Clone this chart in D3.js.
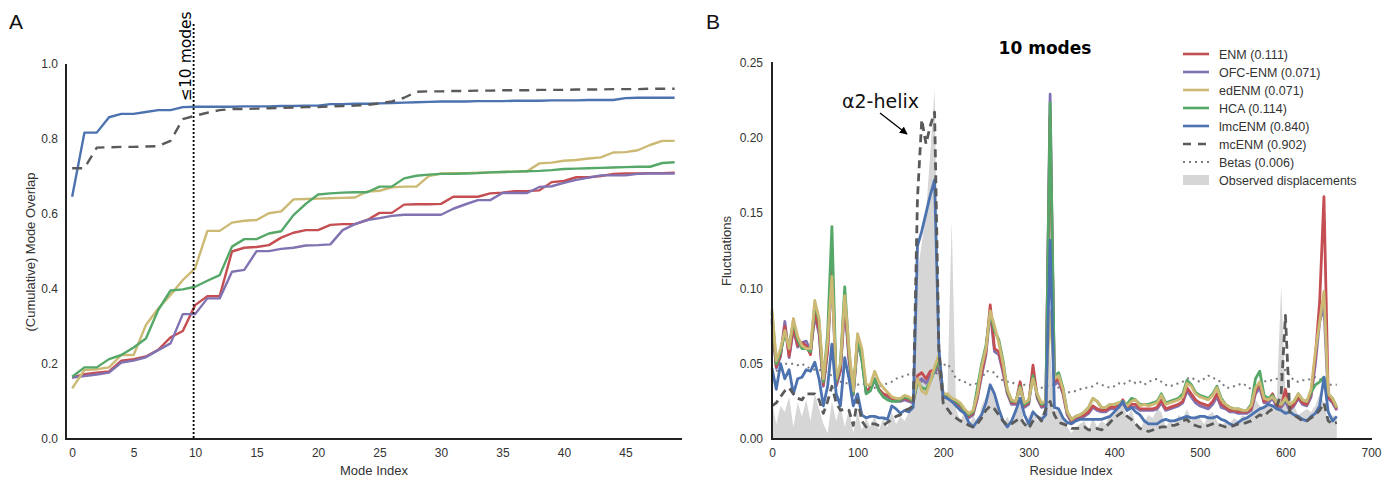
<!DOCTYPE html>
<html><head><meta charset="utf-8">
<script src="https://cdn.jsdelivr.net/npm/d3@7"></script>
<style>
body{margin:0;background:#fff;}
svg{display:block;}
.tick text{font-family:"Liberation Sans",Arial,sans-serif;font-size:12px;fill:#333;}
</style></head>
<body><svg id="c" width="1395" height="478"></svg>
<script>
// ---------- Panel A data ----------
const modeIndex = d3.range(0, 50);
const xTicksA = [0,5,10,15,20,25,30,35,40,45];
const yTicksA = [0,0.2,0.4,0.6,0.8,1.0];
const enmA = [0.164,0.173,0.177,0.180,0.209,0.213,0.220,0.238,0.271,0.288, 0.357,0.381,0.381,0.500,0.510,0.512,0.517,0.537,0.550,0.557, 0.557,0.571,0.573,0.573,0.584,0.603,0.603,0.625,0.626,0.626, 0.627,0.646,0.646,0.646,0.655,0.657,0.661,0.661,0.663,0.685, 0.688,0.698,0.698,0.701,0.707,0.708,0.708,0.709,0.709,0.710];
const ofcA = [0.164,0.168,0.172,0.177,0.204,0.209,0.218,0.237,0.255,0.333, 0.333,0.375,0.375,0.446,0.451,0.501,0.501,0.507,0.510,0.516, 0.517,0.519,0.557,0.573,0.584,0.589,0.595,0.598,0.598,0.598, 0.598,0.614,0.626,0.637,0.637,0.656,0.656,0.656,0.672,0.674, 0.683,0.691,0.697,0.703,0.703,0.703,0.707,0.708,0.708,0.708];
const edA = [0.135,0.184,0.186,0.191,0.224,0.224,0.304,0.348,0.384,0.424, 0.455,0.555,0.555,0.577,0.582,0.584,0.602,0.607,0.639,0.640, 0.641,0.642,0.643,0.644,0.660,0.662,0.671,0.673,0.673,0.701, 0.708,0.709,0.709,0.710,0.711,0.712,0.713,0.714,0.735,0.737, 0.742,0.744,0.748,0.751,0.764,0.765,0.770,0.784,0.795,0.795];
const hcaA = [0.166,0.191,0.191,0.213,0.224,0.244,0.268,0.344,0.396,0.399, 0.406,0.422,0.437,0.513,0.533,0.533,0.548,0.554,0.597,0.627, 0.652,0.655,0.657,0.658,0.658,0.673,0.673,0.695,0.702,0.705, 0.707,0.707,0.708,0.709,0.711,0.712,0.713,0.714,0.715,0.717, 0.720,0.721,0.722,0.723,0.724,0.725,0.726,0.726,0.736,0.738];
const lmcA = [0.646,0.817,0.817,0.858,0.867,0.867,0.872,0.877,0.877,0.885, 0.886,0.886,0.886,0.886,0.887,0.887,0.887,0.888,0.888,0.889, 0.889,0.893,0.893,0.894,0.894,0.895,0.896,0.897,0.898,0.899, 0.900,0.900,0.900,0.901,0.901,0.901,0.902,0.902,0.902,0.903, 0.903,0.903,0.904,0.904,0.904,0.909,0.910,0.910,0.910,0.910];
const mcA = [0.722,0.722,0.777,0.778,0.779,0.779,0.780,0.781,0.795,0.853, 0.862,0.870,0.877,0.880,0.880,0.881,0.882,0.883,0.884,0.885, 0.885,0.887,0.888,0.889,0.891,0.895,0.900,0.910,0.926,0.927, 0.927,0.928,0.928,0.929,0.929,0.930,0.930,0.930,0.931,0.931, 0.931,0.932,0.932,0.932,0.933,0.933,0.933,0.934,0.934,0.934];
const cutoffMode = 10;

// ---------- Panel B data ----------
const residues = d3.range(0, 661, 5);
const xTicksB = [0,100,200,300,400,500,600,700];
const yTicksB = [0,0.05,0.10,0.15,0.20,0.25];
const enmB = [0.080,0.048,0.056,0.075,0.055,0.075,0.062,0.064,0.062,0.056,
0.085,0.072,0.036,0.060,0.119,0.036,0.046,0.092,0.054,0.030,
0.066,0.055,0.032,0.034,0.040,0.033,0.030,0.029,0.027,0.026,
0.026,0.027,0.026,0.025,0.042,0.044,0.040,0.045,0.046,0.050,
0.029,0.029,0.026,0.024,0.022,0.018,0.015,0.017,0.028,0.044,
0.058,0.089,0.060,0.058,0.046,0.031,0.024,0.024,0.038,0.022,
0.024,0.049,0.028,0.022,0.023,0.215,0.038,0.040,0.031,0.017,
0.012,0.014,0.015,0.016,0.018,0.022,0.020,0.019,0.019,0.021,
0.021,0.022,0.026,0.020,0.023,0.023,0.020,0.020,0.020,0.020,
0.021,0.026,0.020,0.021,0.022,0.023,0.025,0.034,0.030,0.026,
0.024,0.023,0.022,0.025,0.030,0.023,0.021,0.019,0.019,0.018,
0.018,0.018,0.020,0.032,0.037,0.025,0.026,0.030,0.022,0.022,
0.033,0.020,0.023,0.028,0.024,0.023,0.030,0.055,0.091,0.161,
0.028,0.025,0.020];
const ofcB = [0.078,0.047,0.055,0.078,0.054,0.073,0.061,0.064,0.065,0.058,
0.082,0.070,0.035,0.058,0.110,0.035,0.045,0.089,0.052,0.029,
0.064,0.053,0.031,0.033,0.039,0.032,0.029,0.028,0.026,0.025,
0.025,0.026,0.025,0.024,0.038,0.040,0.037,0.042,0.044,0.048,
0.028,0.028,0.025,0.023,0.021,0.017,0.014,0.016,0.027,0.042,
0.056,0.085,0.058,0.056,0.044,0.030,0.023,0.023,0.035,0.021,
0.023,0.045,0.027,0.021,0.022,0.229,0.036,0.038,0.030,0.016,
0.011,0.013,0.014,0.015,0.017,0.021,0.019,0.018,0.018,0.020,
0.020,0.021,0.024,0.019,0.021,0.021,0.019,0.019,0.019,0.019,
0.020,0.024,0.019,0.020,0.021,0.022,0.024,0.032,0.028,0.024,
0.022,0.021,0.020,0.023,0.028,0.021,0.020,0.018,0.018,0.017,
0.017,0.017,0.019,0.030,0.034,0.024,0.024,0.027,0.021,0.021,
0.025,0.019,0.022,0.027,0.023,0.022,0.028,0.050,0.078,0.088,
0.027,0.024,0.019];
const edB = [0.086,0.052,0.060,0.072,0.060,0.080,0.068,0.062,0.060,0.060,
0.092,0.080,0.040,0.065,0.108,0.040,0.050,0.095,0.060,0.032,
0.070,0.060,0.036,0.036,0.045,0.038,0.034,0.031,0.028,0.027,
0.027,0.029,0.028,0.026,0.040,0.032,0.030,0.038,0.048,0.056,
0.030,0.030,0.027,0.026,0.024,0.020,0.017,0.019,0.030,0.048,
0.060,0.085,0.075,0.064,0.050,0.033,0.026,0.025,0.034,0.024,
0.026,0.040,0.030,0.024,0.025,0.085,0.040,0.042,0.033,0.018,
0.013,0.015,0.016,0.018,0.021,0.027,0.025,0.021,0.021,0.023,
0.023,0.024,0.025,0.022,0.025,0.026,0.022,0.023,0.022,0.023,
0.024,0.029,0.023,0.024,0.025,0.026,0.028,0.037,0.035,0.030,
0.028,0.027,0.026,0.029,0.034,0.026,0.023,0.021,0.020,0.020,
0.019,0.019,0.022,0.034,0.038,0.027,0.026,0.028,0.024,0.023,
0.027,0.023,0.025,0.030,0.026,0.025,0.033,0.058,0.078,0.098,
0.030,0.027,0.021];
const hcaB = [0.084,0.050,0.058,0.070,0.062,0.078,0.066,0.060,0.060,0.058,
0.090,0.078,0.038,0.070,0.141,0.038,0.050,0.101,0.058,0.030,
0.068,0.052,0.030,0.032,0.040,0.032,0.028,0.026,0.025,0.025,
0.026,0.028,0.027,0.025,0.038,0.034,0.033,0.038,0.046,0.052,
0.030,0.029,0.027,0.025,0.023,0.019,0.016,0.018,0.034,0.050,
0.062,0.084,0.072,0.066,0.052,0.032,0.025,0.025,0.035,0.023,
0.025,0.042,0.029,0.023,0.024,0.223,0.042,0.044,0.034,0.018,
0.013,0.015,0.016,0.018,0.021,0.027,0.025,0.021,0.021,0.023,
0.023,0.024,0.025,0.023,0.027,0.026,0.023,0.023,0.023,0.024,
0.025,0.030,0.024,0.025,0.026,0.027,0.030,0.039,0.036,0.031,
0.029,0.028,0.027,0.030,0.035,0.027,0.023,0.021,0.020,0.020,
0.019,0.019,0.023,0.040,0.045,0.029,0.027,0.029,0.024,0.023,
0.026,0.023,0.025,0.030,0.026,0.025,0.031,0.036,0.038,0.041,
0.030,0.027,0.021];
const lmcB = [0.047,0.033,0.050,0.040,0.046,0.030,0.040,0.041,0.046,0.045,
0.051,0.040,0.022,0.035,0.063,0.030,0.022,0.054,0.040,0.022,
0.030,0.016,0.014,0.015,0.015,0.014,0.014,0.013,0.022,0.020,
0.017,0.019,0.018,0.021,0.128,0.138,0.150,0.162,0.172,0.060,
0.028,0.027,0.025,0.022,0.019,0.017,0.011,0.008,0.012,0.016,
0.024,0.036,0.030,0.020,0.012,0.008,0.012,0.019,0.027,0.016,
0.010,0.018,0.015,0.013,0.016,0.132,0.021,0.020,0.014,0.011,
0.010,0.012,0.013,0.013,0.013,0.013,0.013,0.013,0.014,0.015,
0.018,0.021,0.025,0.019,0.021,0.018,0.016,0.012,0.010,0.010,
0.010,0.012,0.013,0.012,0.012,0.013,0.014,0.015,0.014,0.014,
0.015,0.015,0.014,0.014,0.015,0.013,0.012,0.010,0.009,0.011,
0.013,0.014,0.016,0.018,0.020,0.021,0.023,0.022,0.020,0.019,
0.017,0.018,0.016,0.015,0.013,0.012,0.015,0.017,0.022,0.041,
0.018,0.012,0.015];
const mcB = [0.022,0.024,0.028,0.032,0.034,0.030,0.027,0.026,0.030,0.030,
0.030,0.026,0.017,0.025,0.035,0.024,0.019,0.020,0.019,0.009,
0.026,0.012,0.008,0.010,0.010,0.009,0.009,0.011,0.013,0.015,
0.016,0.019,0.020,0.022,0.160,0.212,0.196,0.208,0.217,0.060,
0.024,0.020,0.016,0.014,0.012,0.011,0.009,0.008,0.010,0.014,
0.019,0.022,0.020,0.016,0.012,0.009,0.010,0.012,0.014,0.010,
0.007,0.012,0.015,0.012,0.020,0.025,0.016,0.011,0.010,0.009,
0.007,0.007,0.007,0.008,0.006,0.006,0.007,0.006,0.008,0.011,
0.014,0.016,0.018,0.015,0.013,0.010,0.007,0.006,0.005,0.006,
0.007,0.008,0.008,0.009,0.009,0.010,0.012,0.013,0.010,0.009,
0.008,0.008,0.009,0.010,0.010,0.009,0.008,0.008,0.009,0.010,
0.010,0.011,0.012,0.014,0.016,0.015,0.018,0.020,0.022,0.030,
0.082,0.018,0.016,0.014,0.012,0.012,0.014,0.016,0.019,0.024,
0.012,0.010,0.011];
const betasB = [0.042,0.045,0.048,0.050,0.050,0.050,0.049,0.050,0.048,0.047,
0.046,0.046,0.045,0.044,0.042,0.040,0.038,0.037,0.037,0.037,
0.036,0.037,0.036,0.034,0.034,0.035,0.036,0.037,0.038,0.040,
0.041,0.042,0.043,0.044,0.040,0.038,0.038,0.040,0.042,0.045,
0.049,0.050,0.046,0.040,0.039,0.038,0.036,0.036,0.037,0.040,
0.045,0.045,0.044,0.040,0.039,0.038,0.038,0.036,0.035,0.036,
0.036,0.035,0.034,0.034,0.035,0.036,0.036,0.034,0.032,0.031,
0.031,0.032,0.033,0.034,0.034,0.035,0.037,0.036,0.035,0.034,
0.035,0.037,0.036,0.038,0.039,0.037,0.038,0.036,0.038,0.039,
0.040,0.038,0.036,0.035,0.036,0.037,0.038,0.040,0.041,0.039,
0.038,0.040,0.042,0.041,0.039,0.038,0.034,0.034,0.035,0.036,
0.037,0.035,0.033,0.035,0.037,0.038,0.039,0.039,0.040,0.043,
0.046,0.042,0.039,0.038,0.039,0.039,0.040,0.041,0.040,0.038,
0.036,0.036,0.036];
const observedB = [0.025,0.010,0.022,0.018,0.028,0.008,0.024,0.015,0.026,0.012,
0.030,0.020,0.010,0.004,0.025,0.012,0.022,0.008,0.020,0.004,
0.018,0.006,0.014,0.008,0.016,0.006,0.014,0.008,0.018,0.010,
0.015,0.012,0.018,0.030,0.110,0.130,0.150,0.190,0.232,0.060,
0.025,0.030,0.145,0.020,0.012,0.018,0.008,0.016,0.010,0.022,
0.028,0.035,0.030,0.018,0.010,0.015,0.008,0.018,0.024,0.010,
0.015,0.020,0.012,0.016,0.020,0.060,0.018,0.020,0.014,0.008,
0.004,0.008,0.010,0.012,0.006,0.014,0.008,0.012,0.010,0.016,
0.018,0.020,0.024,0.014,0.020,0.010,0.006,0.012,0.016,0.014,
0.020,0.018,0.008,0.012,0.010,0.016,0.014,0.020,0.012,0.016,
0.014,0.010,0.016,0.018,0.012,0.008,0.012,0.010,0.014,0.012,
0.016,0.014,0.018,0.026,0.022,0.020,0.024,0.022,0.028,0.102,
0.030,0.018,0.022,0.016,0.018,0.020,0.018,0.022,0.030,0.024,
0.012,0.016,0.014];
const legendLabels = ["ENM (0.111)","OFC-ENM (0.071)","edENM (0.071)","HCA (0.114)","lmcENM (0.840)","mcENM (0.902)","Betas (0.006)","Observed displacements"];

// ---------- styles ----------
const C = {enm:"#C44E52", ofc:"#8172B2", ed:"#CCB974", hca:"#55A868", lmc:"#4C72B0", mc:"#5a5a5a", betas:"#7a7a7a", obs:"#d6d6d6"};
const FONT = '"Liberation Sans", Arial, sans-serif';

const svg = d3.select("#c");

// ================= Panel A =================
const xA = d3.scaleLinear().domain([-0.5, 49.6]).range([66, 682]);
const yA = d3.scaleLinear().domain([0, 1]).range([439, 64]);
const gA = svg.append("g");

gA.append("g").attr("transform","translate(66,0)")
  .call(d3.axisLeft(yA).tickValues(yTicksA).tickFormat(d3.format(".1f")).tickSize(0).tickPadding(8))
  .call(g=>g.select(".domain").remove());
gA.append("g").attr("transform","translate(0,439)")
  .call(d3.axisBottom(xA).tickValues(xTicksA).tickFormat(d3.format("d")).tickSize(0).tickPadding(9))
  .call(g=>g.select(".domain").remove());

const lineA = d3.line().x((d,i)=>xA(modeIndex[i])).y(d=>yA(d));
const seriesA = [
  {v:enmA,c:C.enm},{v:ofcA,c:C.ofc},{v:edA,c:C.ed},{v:hcaA,c:C.hca},{v:lmcA,c:C.lmc},
  {v:mcA,c:C.mc,dash:"10,7"}
];
seriesA.forEach(s=>{
  gA.append("path").attr("d",lineA(s.v)).attr("fill","none").attr("stroke",s.c)
    .attr("stroke-width",2.4).attr("stroke-linejoin","round")
    .attr("stroke-dasharray",s.dash||null);
});
// cutoff line
gA.append("line").attr("x1",xA(cutoffMode)-1.5).attr("x2",xA(cutoffMode)-1.5).attr("y1",24).attr("y2",439)
  .attr("stroke","#000").attr("stroke-width",1.8).attr("stroke-dasharray","2,2");
gA.append("text").attr("transform",`translate(${xA(cutoffMode)-4},101) rotate(-90)`)
  .attr("font-family","DejaVu Sans").attr("font-size",15.5).attr("fill","#000").text("≤10 modes");
// spines
gA.append("line").attr("x1",66).attr("x2",66).attr("y1",64).attr("y2",440).attr("stroke","#222").attr("stroke-width",2);
gA.append("line").attr("x1",65).attr("x2",682).attr("y1",439).attr("y2",439).attr("stroke","#222").attr("stroke-width",2);
gA.append("text").attr("x",374).attr("y",475).attr("text-anchor","middle").attr("font-family",FONT).attr("font-size",13).attr("fill","#333").text("Mode Index");
gA.append("text").attr("transform","translate(35,252) rotate(-90)").attr("text-anchor","middle").attr("font-family",FONT).attr("font-size",13).attr("fill","#333").text("(Cumulative) Mode Overlap");
svg.append("text").attr("x",9).attr("y",29).attr("font-family",FONT).attr("font-size",21).attr("fill","#111").text("A");

// ================= Panel B =================
const xB = d3.scaleLinear().domain([0,700]).range([772,1371]);
const yB = d3.scaleLinear().domain([0,0.25]).range([439,62.5]);
const gB = svg.append("g");

gB.append("g").attr("transform","translate(772,0)")
  .call(d3.axisLeft(yB).tickValues(yTicksB).tickFormat(d3.format(".2f")).tickSize(0).tickPadding(9))
  .call(g=>g.select(".domain").remove());
gB.append("g").attr("transform","translate(0,439)")
  .call(d3.axisBottom(xB).tickValues(xTicksB).tickFormat(d3.format("d")).tickSize(0).tickPadding(9))
  .call(g=>g.select(".domain").remove());

const area = d3.area().x((d,i)=>xB(residues[i])).y0(yB(0)).y1(d=>yB(d));
gB.append("path").attr("d",area(observedB)).attr("fill",C.obs).attr("stroke","none");

const lineB = d3.line().x((d,i)=>xB(residues[i])).y(d=>yB(d));
const seriesB = [
  {v:betasB,c:C.betas,w:2,dash:"2,4"},
  {v:ofcB,c:C.ofc,w:2.8},{v:enmB,c:C.enm,w:2.8},{v:hcaB,c:C.hca,w:2.8},{v:edB,c:C.ed,w:2.8},
  {v:lmcB,c:C.lmc,w:2.8},{v:mcB,c:C.mc,w:2.8,dash:"8,5"}
];
seriesB.forEach(s=>{
  gB.append("path").attr("d",lineB(s.v)).attr("fill","none").attr("stroke",s.c)
    .attr("stroke-width",s.w).attr("stroke-linejoin","round")
    .attr("stroke-dasharray",s.dash||null);
});
gB.append("line").attr("x1",772).attr("x2",772).attr("y1",62).attr("y2",440).attr("stroke","#222").attr("stroke-width",2);
gB.append("line").attr("x1",771).attr("x2",1372).attr("y1",439).attr("y2",439).attr("stroke","#222").attr("stroke-width",2);

// annotation
gB.append("text").attr("x",842).attr("y",108).attr("font-family","DejaVu Sans").attr("font-size",19).attr("fill","#111").text("α2-helix");
svg.append("defs").append("marker").attr("id","ah").attr("viewBox","0 0 10 10").attr("refX",9).attr("refY",5)
  .attr("markerWidth",6).attr("markerHeight",6).attr("orient","auto")
  .append("path").attr("d","M0,0 L10,5 L0,10 z").attr("fill","#000");
gB.append("line").attr("x1",880).attr("y1",113).attr("x2",907).attr("y2",134).attr("stroke","#000").attr("stroke-width",1.3).attr("marker-end","url(#ah)");

gB.append("text").attr("x",1045).attr("y",54).attr("text-anchor","middle").attr("font-family","DejaVu Sans").attr("font-weight","bold").attr("font-size",17).attr("fill","#000").text("10 modes");
gB.append("text").attr("x",1071).attr("y",475).attr("text-anchor","middle").attr("font-family",FONT).attr("font-size",13).attr("fill","#333").text("Residue Index");
gB.append("text").attr("transform","translate(731,251) rotate(-90)").attr("text-anchor","middle").attr("font-family",FONT).attr("font-size",13).attr("fill","#333").text("Fluctuations");
svg.append("text").attr("x",706).attr("y",29).attr("font-family",FONT).attr("font-size",21).attr("fill","#111").text("B");

// legend
const legStyles = [
  {c:C.enm},{c:C.ofc},{c:C.ed},{c:C.hca},{c:C.lmc},{c:C.mc,dash:"8,7"},{c:C.betas,dash:"2,4",w:2},{patch:true}
];
const lg = gB.append("g");
legendLabels.forEach((t,i)=>{
  const y = 54 + i*18;
  const s = legStyles[i];
  if (s.patch) {
    lg.append("rect").attr("x",1183).attr("y",y-5).attr("width",26).attr("height",10).attr("fill",C.obs);
  } else {
    lg.append("line").attr("x1",1183).attr("x2",1209).attr("y1",y).attr("y2",y).attr("stroke",s.c)
      .attr("stroke-width",s.w||2.6).attr("stroke-dasharray",s.dash||null);
  }
  lg.append("text").attr("x",1219).attr("y",y+4.5).attr("font-family",FONT).attr("font-size",12.5).attr("fill","#333").text(t);
});
</script></body></html>
